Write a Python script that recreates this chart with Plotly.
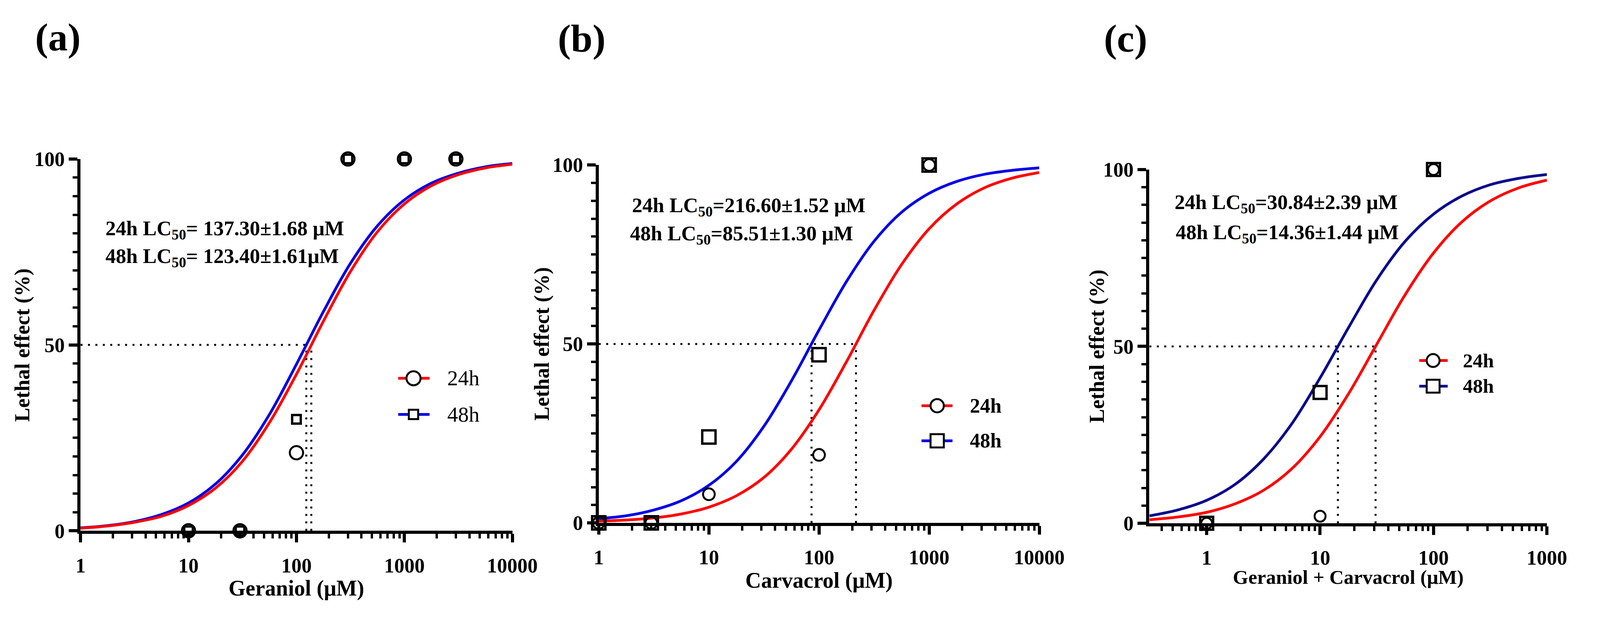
import plotly.graph_objects as go

REF_W, REF_H = 4304, 1584
FONT = "Liberation Serif"
RED = "#ff0000"
BLUE = "#0000e6"
NAVY = "#0a0a8c"

# ---------------- data ----------------
# (a) Geraniol
a_dose = [10, 30, 100, 300, 1000, 3000]
a_obs_24h = [0, 0, 21, 100, 100, 100]
a_obs_48h = [0, 0, 30, 100, 100, 100]
a_lc50 = [137.30, 123.40]
a_curve_x = [1, 1.78, 3.16, 5.62, 10, 17.8, 31.6, 56.2, 100, 178, 316, 562,
             1000, 1778, 3162, 5623, 10000]
a_curve_24h = [0.7, 1.3, 2.3, 3.9, 6.8, 11.5, 18.7, 29.1, 42.1, 56.4, 69.7,
               80.4, 87.9, 92.8, 95.8, 97.6, 98.6]
a_curve_48h = [0.8, 1.4, 2.5, 4.4, 7.5, 12.6, 20.4, 31.3, 44.8, 59.0, 71.9,
               82.0, 89.0, 93.5, 96.2, 97.9, 98.8]

# (b) Carvacrol
b_dose = [1, 3, 10, 100, 1000]
b_obs_24h = [0, 0, 8, 19, 100]
b_obs_48h = [0, 0, 24, 47, 100]
b_lc50 = [216.60, 85.51]
b_curve_x = [1, 1.78, 3.16, 5.62, 10, 17.8, 31.6, 56.2, 100, 178, 316, 562,
             1000, 1778, 3162, 5623, 10000]
b_curve_24h = [0.5, 0.8, 1.4, 2.5, 4.4, 7.6, 12.7, 20.6, 31.6, 45.1, 59.4,
               72.2, 82.2, 89.1, 93.6, 96.3, 97.9]
b_curve_48h = [1.2, 2.0, 3.6, 6.2, 10.5, 17.2, 27.0, 39.7, 53.9, 67.5, 78.7,
               86.8, 92.1, 95.4, 97.4, 98.5, 99.2]

# (c) Geraniol + Carvacrol
c_dose = [1, 10, 100]
c_obs_24h = [0, 2, 100]
c_obs_48h = [0, 37, 100]
c_lc50 = [30.84, 14.36]
c_curve_x = [0.313, 0.562, 1, 1.78, 3.16, 5.62, 10, 17.8, 31.6, 56.2, 100,
             178, 316, 562, 1000]
c_curve_24h = [1.0, 1.8, 3.1, 5.5, 9.3, 15.4, 24.5, 36.6, 50.6, 64.6, 76.4,
               85.2, 91.1, 94.8, 97.0]
c_curve_48h = [2.1, 3.8, 6.5, 11.0, 18.1, 28.1, 41.1, 55.3, 68.8, 79.7, 87.4,
               92.5, 95.7, 97.5, 98.6]

lc_labels = {
    "a": ["24h LC<sub>50</sub>= 137.30±1.68 μM", "48h LC<sub>50</sub>= 123.40±1.61μM"],
    "b": ["24h LC<sub>50</sub>=216.60±1.52 μM", "48h LC<sub>50</sub>=85.51±1.30 μM"],
    "c": ["24h LC<sub>50</sub>=30.84±2.39 μM", "48h LC<sub>50</sub>=14.36±1.44 μM"],
}
x_titles = {"a": "Geraniol (μM)", "b": "Carvacrol (μM)", "c": "Geraniol + Carvacrol (μM)"}
series_names = ["24h", "48h"]


# positions below are measured in reference pixels and turned into paper fractions
def px(x):
    return x / REF_W


def py(y):
    return 1 - y / REF_H


# panel geometry (left, right, y of 0, y of 100)
panels = [
    dict(key="a", box=(207, 1391, 1380, 393), xr=[0, 4], dose=a_dose,
         obs=[a_obs_24h, a_obs_48h], lc=a_lc50, cx=a_curve_x,
         cy=[a_curve_24h, a_curve_48h], colors=[RED, BLUE],
         msize=[34, 22], xtv=[1, 10, 100, 1000, 10000],
         letter=(145, 70), lc_pos=[(273, 581), (273, 655)],
         xt_y=1533, yt_x=47, xt_size=56,
         leg=dict(line=(1078, 1164), mark=1120, text=1210, rows=(975, 1071),
                  weight="normal", size=55, msize=[36, 24])),
    dict(key="b", box=(1628, 2836, 1359, 409), xr=[0, 4], dose=b_dose,
         obs=[b_obs_24h, b_obs_48h], lc=b_lc50, cx=b_curve_x,
         cy=[b_curve_24h, b_curve_48h], colors=[RED, BLUE],
         msize=[30, 34], xtv=[1, 10, 100, 1000, 10000],
         letter=(1581, 73), lc_pos=[(1717, 520), (1712, 594)],
         xt_y=1512, yt_x=1472, xt_size=56,
         leg=dict(line=(2513, 2598), mark=2556, text=2644, rows=(1048, 1141),
                  weight="bold", size=52, msize=[34, 34])),
    dict(key="c", box=(3138, 4228, 1360, 421), xr=[-0.505, 3], dose=c_dose,
         obs=[c_obs_24h, c_obs_48h], lc=c_lc50, cx=c_curve_x,
         cy=[c_curve_24h, c_curve_48h], colors=[RED, NAVY],
         msize=[28, 33], xtv=[1, 10, 100, 1000],
         letter=(3073, 73), lc_pos=[(3205, 511), (3208, 591)],
         xt_y=1503, yt_x=2994, xt_size=51,
         leg=dict(line=(3878, 3956), mark=3916, text=3996, rows=(928, 996),
                  weight="bold", size=51, msize=[33, 33])),
]

fig = go.Figure()
annotations = []
shapes = []
tick_font = dict(family=FONT, size=52, color="black", weight="bold")


def label(text, x, y, size, weight="bold", xanchor="center", angle=0):
    return dict(text=text, x=px(x), y=py(y), xref="paper", yref="paper",
                xanchor=xanchor, yanchor="middle", showarrow=False, textangle=angle,
                font=dict(family=FONT, size=size, color="black", weight=weight))


for i, p in enumerate(panels, start=1):
    xa = "x" if i == 1 else f"x{i}"
    ya = "y" if i == 1 else f"y{i}"
    left, right, y0, y100 = p["box"]

    # dotted LC50 guides
    xmin = 10 ** p["xr"][0]
    fig.add_trace(go.Scatter(x=[xmin, max(p["lc"])], y=[50, 50], mode="lines",
                             line=dict(color="black", width=5, dash="5px,14px"),
                             xaxis=xa, yaxis=ya, showlegend=False, hoverinfo="skip"))
    for lc in p["lc"]:
        fig.add_trace(go.Scatter(x=[lc, lc], y=[0, 50], mode="lines",
                                 line=dict(color="black", width=5, dash="5px,14px"),
                                 xaxis=xa, yaxis=ya, showlegend=False, hoverinfo="skip"))

    # fitted curves (48h under 24h)
    for k in [1, 0]:
        fig.add_trace(go.Scatter(x=p["cx"], y=p["cy"][k], mode="lines",
                                 line=dict(color=p["colors"][k], width=7, shape="spline"),
                                 xaxis=xa, yaxis=ya, showlegend=False,
                                 name=series_names[k]))

    # observed points
    symbols = ["circle-open", "square-open"]
    widths = [5, 6]
    for k in [0, 1]:
        fig.add_trace(go.Scatter(x=p["dose"], y=p["obs"][k], mode="markers",
                                 marker=dict(symbol=symbols[k], size=p["msize"][k],
                                             color="black",
                                             line=dict(color="black", width=widths[k])),
                                 cliponaxis=False, xaxis=xa, yaxis=ya,
                                 showlegend=False, name=series_names[k]))

    fig.update_layout({
        f"xaxis{'' if i == 1 else i}": dict(
            type="log", range=p["xr"], domain=[px(left), px(right)], anchor=ya,
            tickmode="array", tickvals=p["xtv"], ticktext=[str(v) for v in p["xtv"]],
            ticks="outside", ticklen=22, tickwidth=8, tickcolor="black",
            showline=True, linewidth=8, linecolor="black",
            showgrid=False, zeroline=False, tickfont=tick_font,
            ticklabelstandoff=14,
            minor=dict(dtick="D1", ticks="outside", ticklen=12, tickwidth=6,
                       tickcolor="black", showgrid=False),
        ),
        f"yaxis{'' if i == 1 else i}": dict(
            range=[0, 100], domain=[py(y0), py(y100)], anchor=xa,
            tickmode="array", tickvals=[0, 50, 100],
            ticks="outside", ticklen=22, tickwidth=8, tickcolor="black",
            showline=True, linewidth=8, linecolor="black",
            showgrid=False, zeroline=False, tickfont=tick_font,
            minor=dict(dtick=5, ticks="outside", ticklen=12, tickwidth=6,
                       tickcolor="black", showgrid=False),
        ),
    })

    annotations.append(label(f"({p['key']})", *p["letter"], 100))
    for txt, (tx, ty) in zip(lc_labels[p["key"]], p["lc_pos"]):
        annotations.append(label(txt, tx, ty, 53, xanchor="left"))
    annotations.append(label(x_titles[p["key"]], (left + right) / 2, p["xt_y"], p["xt_size"]))
    annotations.append(label("Lethal effect (%)", p["yt_x"], (y0 + y100) / 2, 54, angle=-90))

    # legend drawn by hand: long sample line with a hollow symbol on it
    lg = p["leg"]
    for k, ry in enumerate(lg["rows"]):
        shapes.append(dict(type="line", xref="paper", yref="paper",
                           x0=px(lg["line"][0]), x1=px(lg["line"][1]), y0=py(ry), y1=py(ry),
                           line=dict(color=p["colors"][k], width=7)))
        r = lg["msize"][k] / 2
        shapes.append(dict(type="circle" if k == 0 else "rect", xref="paper", yref="paper",
                           xsizemode="pixel", ysizemode="pixel",
                           xanchor=px(lg["mark"]), yanchor=py(ry),
                           x0=-r, x1=r, y0=-r, y1=r, fillcolor="white",
                           line=dict(color="black", width=5)))
        annotations.append(label(series_names[k], lg["text"], ry, lg["size"],
                                 weight=lg["weight"], xanchor="left"))

fig.update_layout(
    width=REF_W, height=REF_H,
    margin=dict(l=0, r=0, t=0, b=0),
    paper_bgcolor="white", plot_bgcolor="white",
    showlegend=False,
    annotations=annotations,
    shapes=shapes,
)

# the browser viewport is narrower than asked for, so fit the graph to it
fit_js = """
document.body.style.margin = '0';
document.body.style.overflow = 'hidden';
document.documentElement.style.overflow = 'hidden';
var gd = document.getElementById('{plot_id}');
Plotly.relayout(gd, {width: window.innerWidth, height: window.innerHeight});
"""

fig.write_html("out.html", post_script=fit_js, config={"displayModeBar": False})
